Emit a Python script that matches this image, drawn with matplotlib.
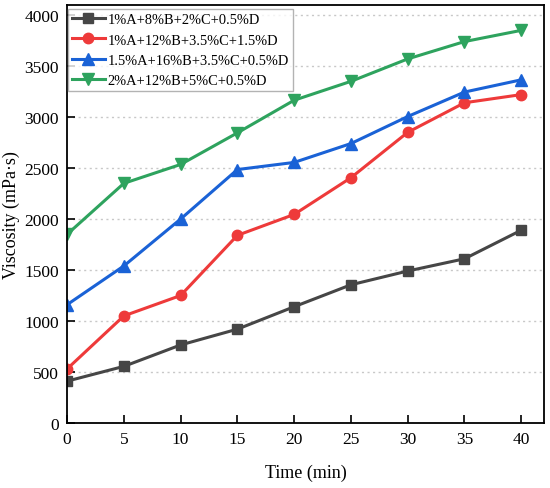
import matplotlib
matplotlib.use("Agg")
import matplotlib.pyplot as plt

time = [0, 5, 10, 15, 20, 25, 30, 35, 40]
labels = ["1%A+8%B+2%C+0.5%D", "1%A+12%B+3.5%C+1.5%D",
          "1.5%A+16%B+3.5%C+0.5%D", "2%A+12%B+5%C+0.5%D"]
s1 = [410, 555, 765, 920, 1140, 1355, 1490, 1610, 1890]
s2 = [530, 1050, 1250, 1840, 2045, 2405, 2850, 3140, 3220]
s3 = [1160, 1540, 2000, 2485, 2555, 2740, 3005, 3245, 3365]
s4 = [1850, 2350, 2535, 2845, 3165, 3350, 3570, 3740, 3850]
xticks = [0, 5, 10, 15, 20, 25, 30, 35, 40]
yticks = [0, 500, 1000, 1500, 2000, 2500, 3000, 3500, 4000]

colors = ["#464646", "#EE3A3A", "#1A62D6", "#2EA35E"]
markers = ["s", "o", "^", "v"]
msizes = [6.5, 7.5, 8, 8]

plt.rcParams['font.family'] = ['Liberation Serif', 'DejaVu Serif']

fig = plt.figure(figsize=(5.5, 4.89), dpi=100)
ax = fig.add_axes([0.122, 0.133, 0.867, 0.855])

for ys, lab, c, m, ms in zip([s1, s2, s3, s4], labels, colors, markers, msizes):
    ax.plot(time, ys, color=c, marker=m, markersize=ms, linewidth=2.2, label=lab)

ax.set_xlim(0, 42)
ax.set_ylim(0, 4100)
ax.set_xticks(xticks)
ax.set_yticks(yticks)
ax.yaxis.grid(True, linestyle=(0, (1.5, 2.5)), color="#c8c8c8", linewidth=1.0)
ax.set_axisbelow(True)
ax.tick_params(direction='in', length=5.5, width=1.2, labelsize=12.5, pad=6,
               top=False, right=False)
for sp in ax.spines.values():
    sp.set_linewidth(1.3)
ax.set_xlabel("Time (min)", fontsize=13, labelpad=12)
ax.set_ylabel("Viscosity (mPa·s)", fontsize=13, labelpad=3)

leg = ax.legend(loc='upper left', bbox_to_anchor=(0.002, 0.989), fontsize=10.4,
                frameon=True, fancybox=False, edgecolor="#a0a0a0",
                handlelength=2.3, handletextpad=0.2, borderpad=0.25,
                labelspacing=0.5, borderaxespad=0.0)
leg.get_frame().set_linewidth(1.0)

fig.savefig("out.png", dpi=100)
